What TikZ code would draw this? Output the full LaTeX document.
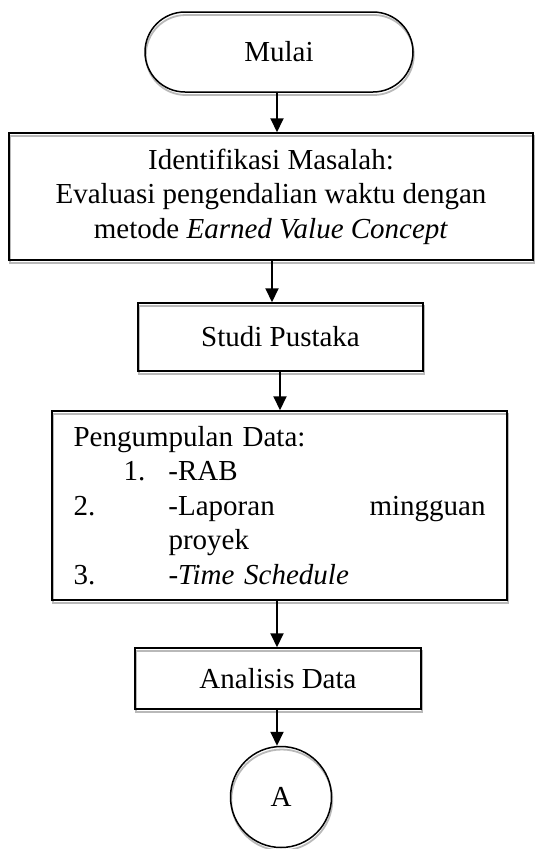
\documentclass[tikz,border=0pt]{standalone}
\usepackage{fontspec}
\setmainfont{Liberation Serif}
\usetikzlibrary{arrows.meta}
\begin{document}
\begin{tikzpicture}[x=1pt,y=-1pt,
  txt/.style={font=\fontsize{29pt}{34.5pt}\selectfont},
  box/.style={txt, draw=black, line width=1.5pt, inner sep=0pt,
    preaction={draw=gray!55, line width=1.8pt, transform canvas={shift={(0.8pt,-3pt)}}}},
  term/.style={box, rounded corners=40pt},
  arr/.style={draw=black, line width=2pt, -{Triangle[length=14pt,width=13pt]}}]
\useasboundingbox (0,0) rectangle (541,849);
\node[term, minimum width=268pt, minimum height=80pt] (mulai) at (279,52) {Mulai};
\node[box, minimum width=524pt, minimum height=127pt, align=center] (ident) at (271,196.5)
  {Identifikasi Masalah:\\ Evaluasi pengendalian waktu dengan\\ metode \textit{Earned Value Concept}};
\node[box, minimum width=285pt, minimum height=68pt] (studi) at (280.5,337) {Studi Pustaka};
\node[box, minimum width=455pt, minimum height=189pt, text width=412pt, align=left] (data) at (279.5,505.5)
  {Pengumpulan Data:\\
   \hspace*{50pt}\makebox[45pt][l]{1.}-RAB\\
   \makebox[95pt][l]{2.}\makebox[317pt][l]{-Laporan\hfill mingguan}\\
   \hspace*{95pt}proyek\\
   \makebox[95pt][l]{3.}\textit{-Time Schedule}};
\node[box, minimum width=286pt, minimum height=61pt] (anal) at (278,678.5) {Analisis Data};
\node[box, circle, minimum size=101pt] (A) at (281,797) {A};
\coordinate (x1) at (277,0);
\coordinate (x2) at (272,0);
\coordinate (x3) at (280,0);
\coordinate (x4) at (277,0);
\coordinate (x5) at (277,0);
\draw[arr] (mulai.south -| x1) -- (ident.north -| x1);
\draw[arr] (ident.south -| x2) -- (studi.north -| x2);
\draw[arr] (studi.south -| x3) -- (data.north -| x3);
\draw[arr] (data.south -| x4) -- (anal.north -| x4);
\draw[arr] (anal.south -| x5) -- (A.north -| x5);
\end{tikzpicture}
\end{document}
